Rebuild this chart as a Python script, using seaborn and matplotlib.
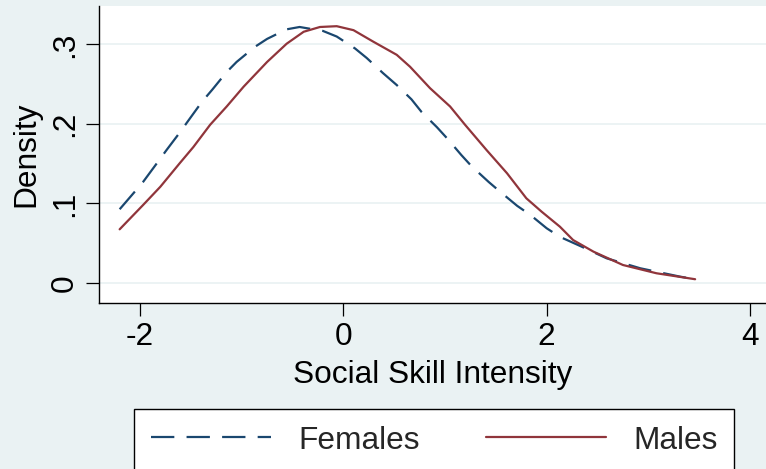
import matplotlib
matplotlib.use("Agg")
import matplotlib.pyplot as plt
import seaborn as sns
import pandas as pd

# ---- data ----
female_x = [-2.20, -2.05, -1.97, -1.82, -1.74, -1.61, -1.52, -1.39, -1.29, -1.15,
            -1.05, -0.87, -0.75, -0.56, -0.43, -0.20, -0.065, 0.115, 0.23, 0.39,
            0.525, 0.67, 0.77, 0.92, 1.02, 1.16, 1.26, 1.43, 1.54, 1.71,
            1.84, 2.00, 2.13, 2.33, 2.59, 2.92, 3.31, 3.46]
female_y = [0.0927, 0.115, 0.127, 0.153, 0.167, 0.189, 0.205, 0.228, 0.243, 0.265,
            0.278, 0.297, 0.307, 0.319, 0.322, 0.317, 0.310, 0.295, 0.283, 0.264,
            0.249, 0.231, 0.215, 0.196, 0.182, 0.161, 0.147, 0.127, 0.115, 0.097,
            0.0855, 0.0688, 0.058, 0.0465, 0.031, 0.0185, 0.008, 0.0047]

male_x = [-2.20, -1.97, -1.80, -1.61, -1.475, -1.31, -1.147, -0.98, -0.75, -0.557,
          -0.39, -0.23, -0.065, 0.10, 0.295, 0.525, 0.656, 0.853, 1.05, 1.197,
          1.41, 1.61, 1.80, 1.95, 2.13, 2.26, 2.46, 2.75, 3.08, 3.46]
male_y = [0.0675, 0.098, 0.121, 0.1505, 0.171, 0.199, 0.222, 0.247, 0.278, 0.301,
          0.316, 0.322, 0.323, 0.318, 0.3035, 0.287, 0.272, 0.245, 0.222, 0.199,
          0.167, 0.138, 0.1065, 0.0897, 0.0708, 0.054, 0.0394, 0.0226, 0.0122, 0.0047]

series_labels = ["Females", "Males"]
x_ticks = [-2, 0, 2, 4]
x_tick_labels = ["-2", "0", "2", "4"]
y_ticks = [0, 0.1, 0.2, 0.3]
y_tick_labels = ["0", ".1", ".2", ".3"]
x_title = "Social Skill Intensity"
y_title = "Density"

# ---- style ----
BG = "#EAF2F3"
NAVY = "#1a476f"
MAROON = "#90353b"
FS = 22.8

sns.set_style("white")
plt.rcParams["font.family"] = ["Liberation Sans", "DejaVu Sans"]

fig = plt.figure(figsize=(7.66, 4.69), dpi=100, facecolor=BG)
W, H = 766, 469
left, right, top, bottom = 98.5, 766, 6, 303
ax = fig.add_axes([left / W, 1 - bottom / H, (right - left) / W, (bottom - top) / H])
ax.set_facecolor("white")

ax.set_xlim(-2.408, 4.157)
ax.set_ylim(-0.0252, 0.3484)

# gridlines
ax.set_yticks(y_ticks)
ax.yaxis.grid(True, color=BG, linewidth=1.3)
ax.xaxis.grid(False)
ax.set_axisbelow(True)

df_f = pd.DataFrame({"x": female_x, "y": female_y})
df_m = pd.DataFrame({"x": male_x, "y": male_y})
sns.lineplot(data=df_f, x="x", y="y", ax=ax, color=NAVY, linewidth=1.6,
             sort=False, estimator=None, label=series_labels[0])
sns.lineplot(data=df_m, x="x", y="y", ax=ax, color=MAROON, linewidth=1.6,
             sort=False, estimator=None, label=series_labels[1])
lines = ax.get_lines()
lines[0].set_dashes([10.5, 5.5])
ax.get_legend().remove()

for s in ["top", "right"]:
    ax.spines[s].set_visible(False)
for s in ["left", "bottom"]:
    ax.spines[s].set_color("black")
    ax.spines[s].set_linewidth(1.0)

ax.set_xticks(x_ticks)
ax.set_xticklabels(x_tick_labels)
ax.set_yticklabels(y_tick_labels)
ax.tick_params(axis="both", which="major", direction="out", length=9.4, width=0.9,
               color="black", labelsize=FS, labelcolor="black", pad=4,
               bottom=True, left=True)
for t in ax.get_yticklabels():
    t.set_rotation(90)
    t.set_va("center")

ax.set_xlabel(x_title, fontsize=FS, color="black", labelpad=6)
ax.set_ylabel(y_title, fontsize=FS, color="black", labelpad=6)

leg = fig.legend(handles=lines, labels=series_labels, loc="center",
                 bbox_to_anchor=(434.2 / W, 1 - 440.5 / H), ncol=2, fontsize=FS,
                 frameon=True, fancybox=False, shadow=False, edgecolor="black",
                 facecolor="white", framealpha=1, handlelength=3.8,
                 handletextpad=0.85, columnspacing=2.1, borderpad=0.52,
                 borderaxespad=0)
leg.get_frame().set_linewidth(1.0)

fig.savefig("out.png", dpi=100, facecolor=BG)
